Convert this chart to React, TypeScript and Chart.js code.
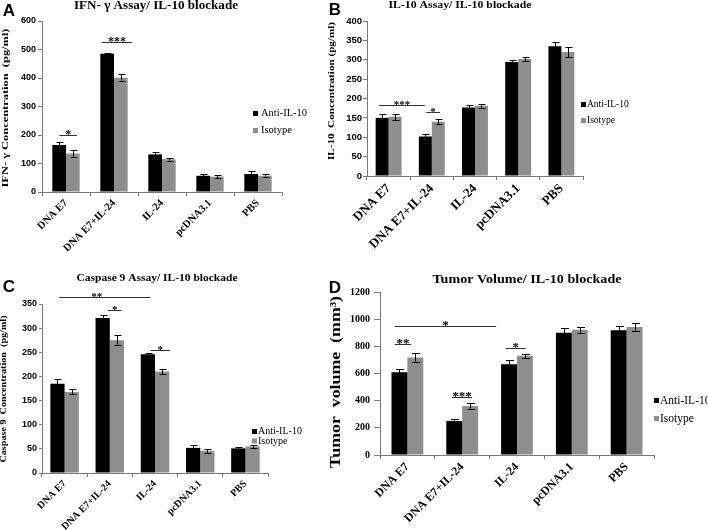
import React, { useEffect, useRef } from "react";
import { Chart, registerables } from "chart.js";

Chart.register(...registerables);

// ---------- data ----------
const categories = ["DNA E7", "DNA E7+IL-24", "IL-24", "pcDNA3.1", "PBS"];
const seriesNames = ["Anti-IL-10", "Isotype"];

// A: IFN-γ (pg/ml)
const ifnAnti = [165, 485, 132, 57, 63];
const ifnAntiErr = [11, 4, 8, 6, 12];
const ifnIso = [135, 401, 115, 54, 57];
const ifnIsoErr = [13, 12, 6, 5, 6];
const ifnSig = [
  { from: -0.14, to: 0.23, value: 200, text: "*" },
  { from: 0.74, to: 1.38, value: 525, text: "***" },
];

// B: IL-10 (pg/ml)
const il10Anti = [150, 102, 177, 294, 335];
const il10AntiErr = [9, 7, 6, 6, 10];
const il10Iso = [153, 140, 181, 302, 320];
const il10IsoErr = [8, 7, 5, 4, 13];
const il10Sig = [
  { from: -0.22, to: 0.84, value: 184, text: "***" },
  { from: 0.87, to: 1.19, value: 165, text: "*" },
];

// C: Caspase 9 (pg/ml)
const casAnti = [185, 321, 246, 52, 51];
const casAntiErr = [10, 6, 1.5, 7, 3];
const casIso = [168, 275, 210, 46, 55];
const casIsoErr = [5, 10, 5, 4, 4];
const casSig = [
  { from: -0.12, to: 1.9, value: 364, text: "**", at: 0.71 },
  { from: 0.96, to: 1.26, value: 338, text: "*" },
  { from: 1.9, to: 2.33, value: 255, text: "*" },
];

// D: Tumor volume (mm³)
const tumAnti = [610, 250, 668, 900, 918];
const tumAntiErr = [25, 18, 28, 32, 35];
const tumIso = [718, 360, 730, 922, 942];
const tumIsoErr = [35, 22, 15, 22, 30];
const tumSig = [
  { from: -0.23, to: 1.62, value: 948, text: "*" },
  { from: -0.23, to: 0.07, value: 815, text: "**" },
  { from: 0.81, to: 1.18, value: 424, text: "***" },
  { from: 1.79, to: 2.16, value: 788, text: "*" },
];

// ---------- styles ----------
const BLACK = "#000000";
const GRAY = "#8e8e8e";
const AXIS = "#7a7a7a";
const SERIF = '"Liberation Serif", "Times New Roman", serif';
const SANS = '"Liberation Sans", Arial, sans-serif';

type Sig = { from: number; to: number; value: number; text: string; at?: number };

type Spec = {
  x: number; y: number; w: number; h: number;
  area: { left: number; right: number; top: number; bottom: number };
  catPct: number;
  anti: number[]; antiErr: number[]; iso: number[]; isoErr: number[];
  yMax: number; yStep: number;
  sigs: Sig[];
  xFont: number; yTickFont: string; yTickSize: number; yTickLen: number; yTickPad: number;
  title: string; titlePos: [number, number]; titleSize: number; titleW: number;
  yTitle: string; yTitlePos: [number, number]; yTitleSize: number; yTitleLen: number;
  letter: string; letterPos: [number, number];
  legendPos: [number, number][]; legendOff: number; legendSize: number;
  starSize: number; cap: number;
};

function drawText(
  ctx: CanvasRenderingContext2D, text: string, x: number, y: number, font: string,
  o: { align?: CanvasTextAlign; baseline?: CanvasTextBaseline; width?: number; rotate?: number } = {}
) {
  ctx.save();
  ctx.font = font;
  ctx.fillStyle = "#000";
  ctx.translate(x, y);
  if (o.rotate) ctx.rotate(o.rotate);
  if (o.width) {
    const w = ctx.measureText(text).width;
    if (w > 0) ctx.scale(o.width / w, 1);
  }
  ctx.textAlign = o.align || "center";
  ctx.textBaseline = o.baseline || "middle";
  ctx.fillText(text, 0, 0);
  ctx.restore();
}

function decor(s: Spec) {
  return {
    id: "decor",
    afterDatasetsDraw(chart: any) {
      const ctx: CanvasRenderingContext2D = chart.ctx;
      const ys = chart.scales.y;
      ctx.save();
      ctx.strokeStyle = "#000";
      ctx.lineWidth = 1;
      [s.antiErr, s.isoErr].forEach((errs, di) => {
        const meta = chart.getDatasetMeta(di);
        const vals = chart.data.datasets[di].data as number[];
        meta.data.forEach((el: any, i: number) => {
          const cx = Math.round(el.x) + 0.5;
          const yt = Math.round(ys.getPixelForValue(vals[i] + errs[i])) + 0.5;
          const yb = Math.round(ys.getPixelForValue(vals[i] - errs[i])) + 0.5;
          ctx.beginPath();
          ctx.moveTo(cx, yt); ctx.lineTo(cx, yb);
          ctx.moveTo(cx - s.cap, yt); ctx.lineTo(cx + s.cap + 1, yt);
          ctx.moveTo(cx - s.cap, yb); ctx.lineTo(cx + s.cap + 1, yb);
          ctx.stroke();
        });
      });
      ctx.restore();
    },
    afterDraw(chart: any) {
      const ctx: CanvasRenderingContext2D = chart.ctx;
      const xs = chart.scales.x;
      const ys = chart.scales.y;
      // significance bars
      ctx.save();
      ctx.strokeStyle = "#333";
      ctx.lineWidth = 1;
      s.sigs.forEach((g) => {
        const x1 = xs.getPixelForValue(g.from);
        const x2 = xs.getPixelForValue(g.to);
        const py = Math.round(ys.getPixelForValue(g.value)) + 0.5;
        ctx.beginPath();
        ctx.moveTo(x1, py); ctx.lineTo(x2, py);
        ctx.stroke();
        const tx = xs.getPixelForValue(g.at !== undefined ? g.at : (g.from + g.to) / 2);
        drawText(ctx, g.text, tx, py + 2, `bold ${s.starSize}px ${SERIF}`, { baseline: "alphabetic" });
      });
      ctx.restore();
      // title
      drawText(ctx, s.title, s.titlePos[0], s.titlePos[1], `bold ${s.titleSize}px ${SERIF}`, { width: s.titleW });
      // y title
      drawText(ctx, s.yTitle, s.yTitlePos[0], s.yTitlePos[1], `bold ${s.yTitleSize}px ${SERIF}`, {
        rotate: -Math.PI / 2, width: s.yTitleLen,
      });
      // panel letter
      drawText(ctx, s.letter, s.letterPos[0], s.letterPos[1], `bold 17px ${SANS}`);
      // legend
      const colors = [BLACK, GRAY];
      s.legendPos.forEach((p, i) => {
        ctx.fillStyle = colors[i];
        ctx.fillRect(p[0], p[1] - 2, 5, 5);
        drawText(ctx, seriesNames[i], p[0] + s.legendOff, p[1] + 0.5, `${s.legendSize}px ${SERIF}`, { align: "left" });
      });
    },
  };
}

function Panel({ s }: { s: Spec }) {
  const ref = useRef<HTMLCanvasElement>(null);
  useEffect(() => {
    const chart = new Chart(ref.current as HTMLCanvasElement, {
      type: "bar",
      data: {
        labels: categories,
        datasets: [
          { label: seriesNames[0], data: s.anti, backgroundColor: BLACK, barPercentage: 1, categoryPercentage: s.catPct },
          { label: seriesNames[1], data: s.iso, backgroundColor: GRAY, barPercentage: 1, categoryPercentage: s.catPct },
        ],
      },
      options: {
        animation: false,
        responsive: false,
        layout: { padding: { left: 0, top: s.area.top, right: s.w - s.area.right, bottom: 0 } },
        plugins: { legend: { display: false }, tooltip: { enabled: false }, title: { display: false } },
        scales: {
          x: {
            grid: { display: true, drawOnChartArea: false, drawTicks: true, tickLength: 4, color: AXIS, offset: true },
            border: { display: true, color: AXIS },
            ticks: {
              font: { family: SERIF, size: s.xFont, weight: "bold" },
              color: "#000", maxRotation: 45, minRotation: 45, autoSkip: false, padding: 1,
            },
            afterFit: (sc: any) => { sc.height = s.h - s.area.bottom; },
          },
          y: {
            min: 0, max: s.yMax,
            grid: { display: true, drawOnChartArea: false, drawTicks: true, tickLength: s.yTickLen, color: AXIS },
            border: { display: true, color: AXIS },
            ticks: {
              stepSize: s.yStep, color: "#000", padding: s.yTickPad,
              font: { family: s.yTickFont, size: s.yTickSize, weight: "bold" },
              callback: (v: any) => String(v),
            },
            afterFit: (sc: any) => { sc.width = s.area.left; },
          },
        },
      } as any,
      plugins: [decor(s)],
    });
    return () => chart.destroy();
  }, [s]);
  return (
    <canvas
      ref={ref}
      width={s.w}
      height={s.h}
      style={{ position: "absolute", left: s.x, top: s.y, width: s.w, height: s.h }}
    />
  );
}

const panels: Spec[] = [
  {
    x: 0, y: 0, w: 320, h: 265,
    area: { left: 42, right: 282, top: 21, bottom: 192 }, catPct: 0.57,
    anti: ifnAnti, antiErr: ifnAntiErr, iso: ifnIso, isoErr: ifnIsoErr,
    yMax: 600, yStep: 100, sigs: ifnSig,
    xFont: 10.5, yTickFont: SANS, yTickSize: 9, yTickLen: 4, yTickPad: 2,
    title: "IFN- γ Assay/ IL-10 blockade", titlePos: [156, 6], titleSize: 12, titleW: 164,
    yTitle: "IFN- γ Concentration  (pg/ml)", yTitlePos: [6, 108], yTitleSize: 8.5, yTitleLen: 159,
    letter: "A", letterPos: [9, 11],
    legendPos: [[253, 113], [253, 130]], legendOff: 8, legendSize: 10.5,
    starSize: 12, cap: 3,
  },
  {
    x: 320, y: 0, w: 388, h: 265,
    area: { left: 47, right: 263, top: 21, bottom: 176 }, catPct: 0.6,
    anti: il10Anti, antiErr: il10AntiErr, iso: il10Iso, isoErr: il10IsoErr,
    yMax: 400, yStep: 50, sigs: il10Sig,
    xFont: 13, yTickFont: SANS, yTickSize: 9.5, yTickLen: 4, yTickPad: 1,
    title: "IL-10 Assay/ IL-10 blockade", titlePos: [140, 5], titleSize: 11, titleW: 143,
    yTitle: "IL-10  Concentration (pg/ml)", yTitlePos: [12, 91], yTitleSize: 9, yTitleLen: 138,
    letter: "B", letterPos: [15, 10],
    legendPos: [[261, 104], [261, 120]], legendOff: 6, legendSize: 9.5,
    starSize: 11, cap: 3,
  },
  {
    x: 0, y: 265, w: 325, h: 265,
    area: { left: 42, right: 268, top: 39, bottom: 208 }, catPct: 0.63,
    anti: casAnti, antiErr: casAntiErr, iso: casIso, isoErr: casIsoErr,
    yMax: 350, yStep: 50, sigs: casSig,
    xFont: 10, yTickFont: SANS, yTickSize: 9, yTickLen: 3, yTickPad: 2,
    title: "Caspase 9 Assay/ IL-10 blockade", titlePos: [157, 13], titleSize: 11, titleW: 161,
    yTitle: "Caspase 9  Concentration  (pg/ml)", yTitlePos: [4, 124], yTitleSize: 7.5, yTitleLen: 147,
    letter: "C", letterPos: [9, 22],
    legendPos: [[252, 166], [252, 175.5]], legendOff: 6, legendSize: 10,
    starSize: 11, cap: 3,
  },
  {
    x: 325, y: 265, w: 383, h: 265,
    area: { left: 55, right: 329, top: 27, bottom: 190 }, catPct: 0.58,
    anti: tumAnti, antiErr: tumAntiErr, iso: tumIso, isoErr: tumIsoErr,
    yMax: 1200, yStep: 200, sigs: tumSig,
    xFont: 12, yTickFont: SERIF, yTickSize: 10, yTickLen: 6, yTickPad: 4,
    title: "Tumor Volume/ IL-10 blockade", titlePos: [202, 15], titleSize: 13, titleW: 189,
    yTitle: "Tumor  volume  (mm³)", yTitlePos: [11, 117], yTitleSize: 14, yTitleLen: 172,
    letter: "D", letterPos: [10, 23],
    legendPos: [[329, 135], [329, 153]], legendOff: 6, legendSize: 11.5,
    starSize: 13, cap: 3.5,
  },
];

export default function App() {
  return (
    <div style={{ position: "absolute", left: 0, top: 0, width: 708, height: 530, background: "#fff", overflow: "hidden" }}>
      {panels.map((p, i) => (
        <Panel key={i} s={p} />
      ))}
    </div>
  );
}
